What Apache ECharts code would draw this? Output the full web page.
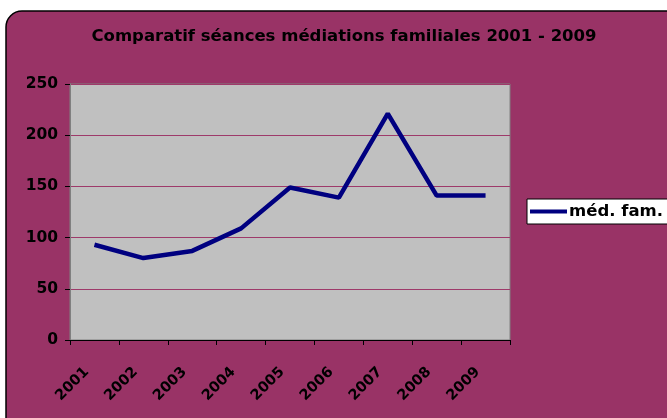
<!DOCTYPE html>
<html>
<head>
<meta charset="utf-8">
<script src="https://cdn.jsdelivr.net/npm/echarts@6/dist/echarts.min.js"></script>
<style>
html, body { margin: 0; padding: 0; background: #fff; }
#chart { width: 667px; height: 418px; }
</style>
</head>
<body>
<div id="chart"></div>
<script>
// données
const years = ['2001', '2002', '2003', '2004', '2005', '2006', '2007', '2008', '2009']
const seances = [93, 80, 87, 109, 149, 139, 221, 141, 141]
const seriesName = 'méd. fam.'
const titleText = 'Comparatif séances médiations familiales 2001 - 2009'

const font = 'DejaVu Sans, Verdana, sans-serif'
const ec = echarts.init(document.getElementById('chart'))

ec.setOption({
    animation: false,
    textStyle: { fontFamily: font },
    graphic: [{
        type: 'rect',
        z: -10,
        shape: { x: 6, y: 11, width: 700, height: 440, r: 16 },
        style: { fill: '#993366', stroke: '#000', lineWidth: 1.5 }
    }],
    title: {
        text: titleText,
        left: 339, top: 23,
        textAlign: 'center',
        textStyle: { fontFamily: font, fontSize: 16.5, fontWeight: 'bold', color: '#000' }
    },
    legend: {
        left: 527, top: 199,
        data: [{ name: seriesName, icon: 'rect' }],
        itemWidth: 37, itemHeight: 4,
        itemGap: 4,
        padding: [4, 12, 4, 3],
        backgroundColor: '#fff',
        borderColor: '#000', borderWidth: 1, borderRadius: 0,
        textStyle: { fontFamily: font, fontSize: 16.5, fontWeight: 'bold', color: '#000', padding: [0, 0, 0, -3] }
    },
    grid: {
        left: 70, top: 84, width: 440, height: 256,
        show: true, backgroundColor: '#C0C0C0', borderColor: '#808080', borderWidth: 1
    },
    xAxis: {
        type: 'category',
        data: years,
        boundaryGap: true,
        axisLine: { lineStyle: { color: '#000', width: 1 } },
        axisTick: { show: true, length: 5, lineStyle: { color: '#000' } },
        axisLabel: {
            rotate: 45, color: '#000', fontFamily: font, fontSize: 14.5, fontWeight: 'bold',
            margin: 22, interval: 0, padding: [0, 11, 0, 0]
        }
    },
    yAxis: {
        type: 'value',
        min: 0, max: 250, interval: 50,
        axisLine: { show: true, lineStyle: { color: '#808080', width: 1 } },
        axisTick: { show: true, length: 5, lineStyle: { color: '#000' } },
        axisLabel: { color: '#000', fontFamily: font, fontSize: 15.5, fontWeight: 'bold', margin: 12 },
        splitLine: { show: true, lineStyle: { color: ['#9e3a6a'], width: 1, type: 'solid' } }
    },
    series: [{
        name: seriesName,
        type: 'line',
        data: seances,
        showSymbol: false,
        symbol: 'none',
        lineStyle: { color: '#000080', width: 4.5 },
        itemStyle: { color: '#000080' }
    }]
})
</script>
</body>
</html>
